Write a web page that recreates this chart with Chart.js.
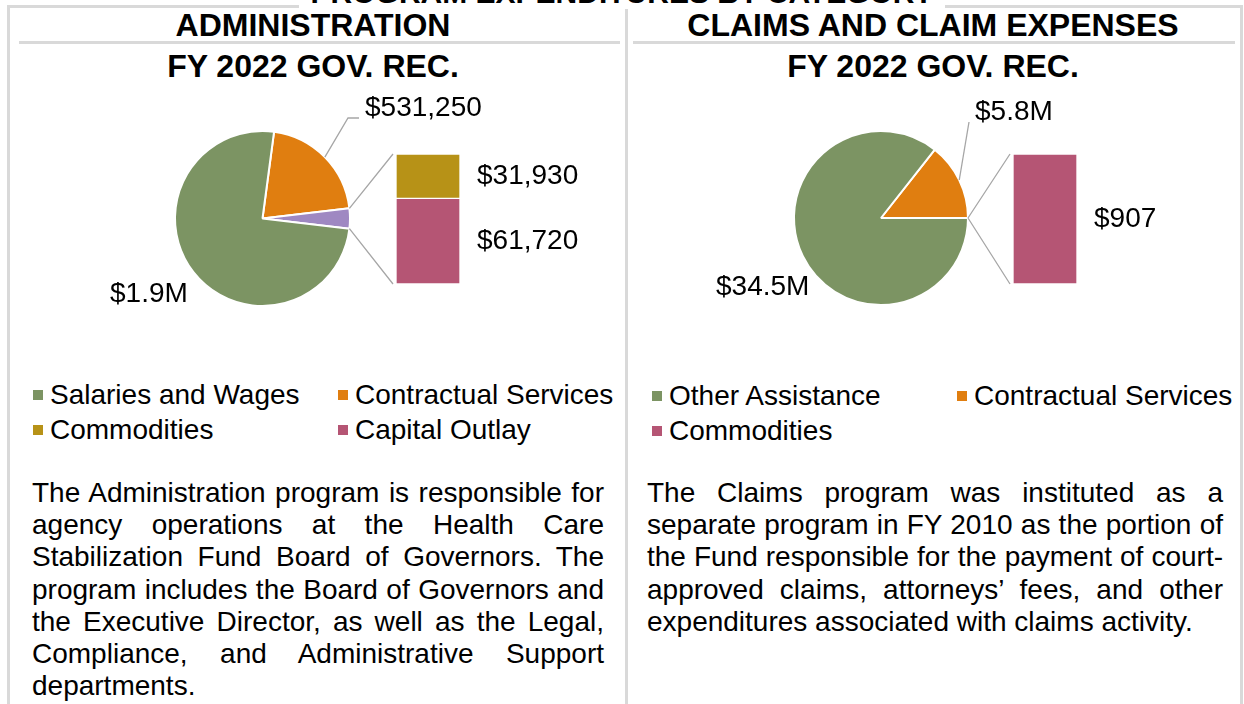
<!DOCTYPE html>
<html>
<head>
<meta charset="utf-8">
<script src="https://cdn.jsdelivr.net/npm/chart.js@4.4.1/dist/chart.umd.min.js"></script>
<style>
  body { margin: 0; width: 1244px; height: 704px; overflow: hidden; background: #fff; position: relative;
         font-family: "Liberation Sans", Arial, sans-serif; color: #000; }
  .rule { position: absolute; background: #d9d9d9; }
  .page-title { position: absolute; left: 0; top: -24px; width: 1244px; text-align: center;
                font-weight: bold; font-size: 30px; line-height: 34px; }
  .page-title span { background: #fff; padding: 0 12px; }
  .hdr { position: absolute; width: 620px; text-align: center; font-weight: bold; font-size: 32px; line-height: 34px; }
  .legend { position: absolute; display: grid; grid-template-columns: 305px 290px; font-size: 28px; line-height: 35px; }
  .legend .item { white-space: nowrap; }
  .legend .sw { display: inline-block; width: 10px; height: 10px; margin-right: 7px; vertical-align: 4px; }
  .desc { position: absolute; font-size: 28px; line-height: 32.2px; text-align: justify; }
  canvas { position: absolute; }
</style>
</head>
<body>
<!-- table frame -->
<div class="rule" style="left:7px;top:5px;width:1236px;height:3px"></div>
<div class="rule" style="left:7px;top:5px;width:3px;height:700px"></div>
<div class="rule" style="left:625px;top:5px;width:3px;height:700px"></div>
<div class="rule" style="left:1240px;top:5px;width:3px;height:700px"></div>
<div class="rule" style="left:19px;top:41px;width:601px;height:3px"></div>
<div class="rule" style="left:633px;top:41px;width:602px;height:3px"></div>
<div class="page-title" style="z-index:2"><span>PROGRAM EXPENDITURES BY CATEGORY</span></div>

<div class="hdr" style="left:3px;top:8px">ADMINISTRATION</div>
<div class="hdr" style="left:3px;top:49px">FY 2022 GOV. REC.</div>
<div class="hdr" style="left:623px;top:8px">CLAIMS AND CLAIM EXPENSES</div>
<div class="hdr" style="left:623px;top:49px">FY 2022 GOV. REC.</div>

<canvas id="adminPie" width="600" height="250" style="left:20px;top:85px"></canvas>
<canvas id="adminBar" width="200" height="140" style="left:396px;top:150px"></canvas>
<canvas id="claimsPie" width="600" height="250" style="left:636px;top:85px"></canvas>
<canvas id="claimsBar" width="200" height="140" style="left:1013px;top:150px"></canvas>

<div class="legend" id="adminLegend" style="left:33px;top:377px"></div>
<div class="legend" id="claimsLegend" style="left:652px;top:378px"></div>

<div class="desc" style="left:32px;top:477px;width:572px">The Administration program is responsible for agency operations at the Health Care Stabilization Fund Board of Governors. The program includes the Board of Governors and the Executive Director, as well as the Legal, Compliance, and Administrative Support departments.</div>
<div class="desc" style="left:647px;top:477px;width:576px">The Claims program was instituted as a separate program in FY 2010 as the portion of the Fund responsible for the payment of court-approved claims, attorneys’ fees, and other expenditures associated with claims activity.</div>

<script>
// ---- data ----
const adminCategories = ['Salaries and Wages', 'Contractual Services', 'Commodities', 'Capital Outlay'];
const adminValues = [1900000, 531250, 31930, 61720];
const adminColors = ['#7c9463', '#e07e10', '#b79217', '#b55574'];

const claimsCategories = ['Other Assistance', 'Contractual Services', 'Commodities'];
const claimsValues = [34500000, 5800000, 907];
const claimsColors = ['#7c9463', '#e07e10', '#b55574'];

const OTHER_COLOR = '#9f88c2';
const LINE_GRAY = '#a6a6a6';
const FONT = '28px "Liberation Sans", Arial, sans-serif';

function fmtMoney(v) {
  if (v >= 1e6) return '$' + (v / 1e6).toFixed(1) + 'M';
  return '$' + v.toLocaleString('en-US');
}

function buildLegend(el, cats, colors) {
  el.innerHTML = cats.map((c, i) =>
    `<div class="item"><span class="sw" style="background:${colors[i]}"></span>${c}</div>`).join('');
}

// stacked bar for the "other" split (first dataset sits at the bottom)
function makeBar(canvasId, cats, vals, colors, idx) {
  const order = idx.slice().reverse();
  const total = idx.reduce((s, i) => s + vals[i], 0);
  const barLabels = {
    id: 'barLabels',
    afterDraw(chart) {
      const ctx = chart.ctx;
      ctx.save();
      ctx.font = FONT; ctx.fillStyle = '#000';
      ctx.textBaseline = 'middle'; ctx.textAlign = 'left';
      chart.data.datasets.forEach((ds, di) => {
        const el = chart.getDatasetMeta(di).data[0];
        ctx.fillText(fmtMoney(ds.data[0]), chart.chartArea.right + 17, (el.y + el.base) / 2);
      });
      ctx.restore();
    },
  };
  return new Chart(document.getElementById(canvasId), {
    type: 'bar',
    data: {
      labels: [''],
      datasets: order.map((i) => ({
        label: cats[i], data: [vals[i]], backgroundColor: colors[i],
        borderColor: '#fff', borderWidth: 1, borderSkipped: false,
        barPercentage: 1, categoryPercentage: 1,
      })),
    },
    options: {
      responsive: false, animation: false, events: [],
      layout: { padding: { left: 0, right: 136, top: 4, bottom: 6 } },
      plugins: { legend: { display: false }, tooltip: { enabled: false } },
      scales: {
        x: { display: false, stacked: true },
        y: { display: false, stacked: true, min: 0, max: total },
      },
    },
    plugins: [barLabels],
  });
}

// pie with main / contractual / other; other slice centred at 3 o'clock
function makePie(canvasId, vals, colors, idx, bar, labelSpots, padding) {
  const otherSum = idx.reduce((s, i) => s + vals[i], 0);
  const data = [vals[1], otherSum, vals[0]];
  const total = data.reduce((s, v) => s + v, 0);
  const rotation = 90 - (otherSum / total) * 180 - (vals[1] / total) * 360;

  const extras = {
    id: 'pieExtras',
    afterDraw(chart) {
      const ctx = chart.ctx;
      const arcs = chart.getDatasetMeta(0).data;
      const cx = arcs[0].x, cy = arcs[0].y, r = arcs[0].outerRadius;
      ctx.save();
      ctx.strokeStyle = LINE_GRAY; ctx.lineWidth = 1.3;
      ctx.font = FONT; ctx.fillStyle = '#000';
      ctx.textBaseline = 'middle'; ctx.textAlign = 'left';
      labelSpots.forEach((l) => {
        const arc = arcs[l.index];
        if (l.leader) {
          const mid = (arc.startAngle + arc.endAngle) / 2;
          ctx.beginPath();
          ctx.moveTo(cx + r * Math.cos(mid), cy + r * Math.sin(mid));
          l.leader.forEach((p) => ctx.lineTo(cx + p[0], cy + p[1]));
          ctx.stroke();
        }
        ctx.fillText(fmtMoney(chart.data.datasets[0].data[l.index]), cx + l.dx, cy + l.dy);
      });
      // connectors from the "other" slice to the bar
      const other = arcs[1];
      const pr = chart.canvas.getBoundingClientRect();
      const br = bar.canvas.getBoundingClientRect();
      const bx = br.left - pr.left + bar.chartArea.left - 3;
      const bt = br.top - pr.top + bar.chartArea.top;
      const bb = br.top - pr.top + bar.chartArea.bottom;
      ctx.beginPath();
      ctx.moveTo(cx + r * Math.cos(other.startAngle), cy + r * Math.sin(other.startAngle));
      ctx.lineTo(bx, bt);
      ctx.moveTo(cx + r * Math.cos(other.endAngle), cy + r * Math.sin(other.endAngle));
      ctx.lineTo(bx, bb);
      ctx.stroke();
      ctx.restore();
    },
  };

  return new Chart(document.getElementById(canvasId), {
    type: 'pie',
    data: {
      labels: ['contractual', 'other', 'main'],
      datasets: [{ data, backgroundColor: [colors[1], OTHER_COLOR, colors[0]], borderColor: '#fff', borderWidth: 2 }],
    },
    options: {
      responsive: false, animation: false, events: [], rotation,
      layout: { padding },
      plugins: { legend: { display: false }, tooltip: { enabled: false } },
    },
    plugins: [extras],
  });
}

buildLegend(document.getElementById('adminLegend'), adminCategories, adminColors);
buildLegend(document.getElementById('claimsLegend'), claimsCategories, claimsColors);

const adminBar = makeBar('adminBar', adminCategories, adminValues, adminColors, [2, 3]);
makePie('adminPie', adminValues, adminColors, [2, 3], adminBar, [
  { index: 0, dx: 102.5, dy: -110.5, leader: [[85.5, -100.5], [96.5, -100.5]] },
  { index: 2, dx: -152.5, dy: 75.5 },
], { left: 154, right: 269, top: 45, bottom: 28 });

const claimsBar = makeBar('claimsBar', claimsCategories, claimsValues, claimsColors, [2]);
makePie('claimsPie', claimsValues, claimsColors, [2], claimsBar, [
  { index: 0, dx: 94, dy: -106, leader: [[88, -96]] },
  { index: 2, dx: -165, dy: 69 },
], { left: 157, right: 267, top: 45, bottom: 29 });
</script>
</body>
</html>
